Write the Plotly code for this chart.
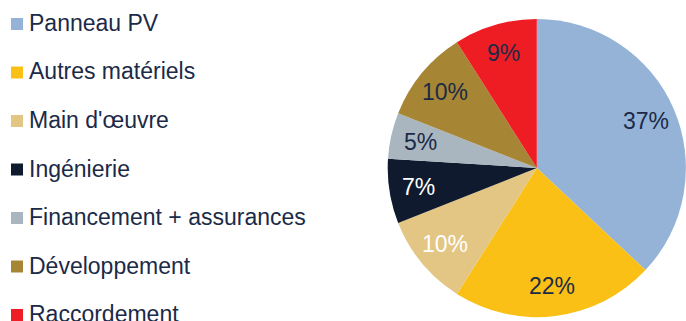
import math
import plotly.graph_objects as go

# Cost breakdown of a PV installation (%)
categories = ["Panneau PV", "Autres matériels", "Main d'œuvre", "Ingénierie",
              "Financement + assurances", "Développement", "Raccordement"]
shares = [37, 22, 10, 7, 5, 10, 9]
colors = ["#95B3D7", "#FAC015", "#E3C684", "#0F1A2E", "#A9B6BF", "#A68634", "#EE1D24"]
label_colors = ["#1B2A47", "#1B2A47", "#FFFFFF", "#FFFFFF", "#1B2A47", "#1B2A47", "#1B2A47"]

W, H = 686, 321
TEXT = "#1B2A47"
FONT = "Liberation Sans, Arial, sans-serif"
DOM_X = [0.565, 1.0]
DOM_Y = [0.012, 0.941]
LABEL_R = 0.8  # label distance from centre, as a fraction of the radius

fig = go.Figure()
fig.add_trace(go.Pie(
    labels=categories,
    values=shares,
    sort=False,
    direction="clockwise",
    rotation=0,
    marker=dict(colors=colors, line=dict(width=0)),
    textinfo="none",
    domain=dict(x=DOM_X, y=DOM_Y),
    showlegend=False,
    hoverinfo="label+percent",
))

# Percentage labels placed along each slice's bisector
cx_px = (DOM_X[0] + DOM_X[1]) / 2 * W
cy_px = (DOM_Y[0] + DOM_Y[1]) / 2 * H
radius = min((DOM_X[1] - DOM_X[0]) * W, (DOM_Y[1] - DOM_Y[0]) * H) / 2
total = sum(shares)
annotations = []
cum = 0.0
for v, tc in zip(shares, label_colors):
    mid = (cum + v / 2) / total * 2 * math.pi
    cum += v
    x_px = cx_px + LABEL_R * radius * math.sin(mid)
    y_px = cy_px + LABEL_R * radius * math.cos(mid)
    annotations.append(dict(text=f"{v}%", xref="paper", yref="paper",
                            x=x_px / W, y=y_px / H,
                            xanchor="center", yanchor="middle", showarrow=False,
                            font=dict(family=FONT, size=23, color=tc)))

# Legend drawn as a column of coloured squares with labels
first_y, step = 24, 48.5
shapes = []
for i, (name, col) in enumerate(zip(categories, colors)):
    yc = first_y + i * step
    shapes.append(dict(type="rect", xref="paper", yref="paper",
                       x0=11 / W, x1=23 / W,
                       y0=1 - (yc + 6) / H, y1=1 - (yc - 6) / H,
                       fillcolor=col, line=dict(width=0)))
    annotations.append(dict(text=name, xref="paper", yref="paper",
                            x=27 / W, y=1 - (yc - 1) / H,
                            xanchor="left", yanchor="middle", showarrow=False,
                            font=dict(family=FONT, size=23, color=TEXT)))

fig.update_layout(
    width=W, height=H,
    margin=dict(l=0, r=0, t=0, b=0),
    paper_bgcolor="white", plot_bgcolor="white",
    shapes=shapes, annotations=annotations,
)

fig.write_html("out.html")
